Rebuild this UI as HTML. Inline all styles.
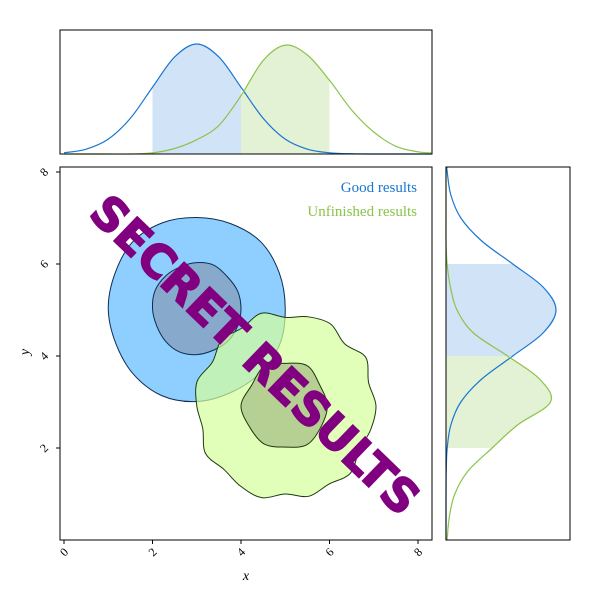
<!DOCTYPE html>
<html><head><meta charset="utf-8"><style>
body{margin:0;background:#fff}
svg text{font-family:"Liberation Serif","DejaVu Serif",serif}
</style></head><body>
<svg id="c" width="600" height="600" xmlns="http://www.w3.org/2000/svg"></svg>
<script>
const xGrid=[0,0.5,1,1.5,2,2.5,3,3.5,4,4.5,5,5.5,6,6.5,7,7.5,8,8.3];
const goodX=[0.011,0.044,0.135,0.325,0.607,0.882,1,0.882,0.607,0.325,0.135,0.044,0.011,0.002,0,0,0,0];
const unfX=[0,0,0,0,0.01,0.05,0.13,0.26,0.53,0.85,0.99,0.9,0.67,0.4,0.2,0.07,0.02,0.01];
const yGrid=[0,0.5,1,1.5,2,2.5,3,3.5,4,4.5,5,5.5,6,6.5,7,7.5,8,8.1];
const goodY=[0,0,0.0003,0.002,0.011,0.044,0.135,0.325,0.607,0.882,1,0.882,0.607,0.325,0.135,0.044,0.011,0.008];
const unfY=[0.01,0.03,0.08,0.2,0.42,0.65,0.95,0.85,0.56,0.25,0.1,0.04,0.01,0,0,0,0,0];
const xTicks=[0,2,4,6,8];
const yTicks=[2,4,6,8];
const goodCenter=[3,5.03];
const goodOuterR=[2.0,2.02,2.05,2.0,1.98,2.02,2.05,2.0,2.0,1.98,2.02,2.05,2.02,1.98,2.0,2.03];
const goodInnerR=[1.0,1.0,0.98,1.02,1.0,0.98,1.0,1.02,1.0,0.98,1.0,1.02,1.0,0.98,1.0,1.0];
const unfCenter=[5.0,2.92];
const unfOuterR=[2.05,1.95,2.1,1.9,2.05,2.0,1.92,2.08,1.95,2.03,1.9,2.06,2.0,1.93,2.08,1.96,2.02,2.07,1.92,2.04,1.97,2.08,1.93,2.0];
const unfInnerR=[0.95,0.9,1.0,0.92,0.97,0.88,1.0,0.93,0.96,0.9,0.98,0.93];

const S=document.getElementById('c'),NS='http://www.w3.org/2000/svg';
function el(t,a,p){const e=document.createElementNS(NS,t);for(const k in a)e.setAttribute(k,a[k]);(p||S).appendChild(e);return e;}
const X=v=>64+v*44.25, Y=v=>540-v*46;
const TY=v=>154-v*110, RX=v=>446+v*110;
const blue='#1976D2',green='#8BC34A';
function smooth(pts){let d='M'+pts[0][0]+','+pts[0][1];const n=pts.length;
 for(let i=0;i<n-1;i++){const p0=pts[Math.max(i-1,0)],p1=pts[i],p2=pts[i+1],p3=pts[Math.min(i+2,n-1)];
 d+='C'+(p1[0]+(p2[0]-p0[0])/6)+','+(p1[1]+(p2[1]-p0[1])/6)+' '+(p2[0]-(p3[0]-p1[0])/6)+','+(p2[1]-(p3[1]-p1[1])/6)+' '+p2[0]+','+p2[1];}return d;}
function topPts(vals){return xGrid.map((x,i)=>[X(x),TY(vals[i])]);}
function rPts(vals){return yGrid.map((y,i)=>[RX(vals[i]),Y(y)]);}
function clipRect(id,x,y,w,h){const cp=el('clipPath',{id});el('rect',{x,y,width:w,height:h},cp);}
clipRect('cg',X(2),30,X(4)-X(2),124);clipRect('cu',X(4),30,X(6)-X(4),124);
clipRect('rg',446,Y(6),124,Y(4)-Y(6));clipRect('ru',446,Y(4),124,Y(2)-Y(4));

let e=el('path',{d:smooth(topPts(goodX))+'L'+X(8.3)+','+TY(0)+'L'+X(0)+','+TY(0)+'Z',fill:'#a4c8ef',opacity:0.5,'clip-path':'url(#cg)'});
e=el('path',{d:smooth(topPts(unfX))+'L'+X(8.3)+','+TY(0)+'L'+X(0)+','+TY(0)+'Z',fill:'#d0e8b8',opacity:0.6,'clip-path':'url(#cu)'});
e=el('path',{d:smooth(topPts(goodX)),fill:'none',stroke:blue,'stroke-width':1.2});
e=el('path',{d:smooth(topPts(unfX)),fill:'none',stroke:green,'stroke-width':1.2});
e=el('rect',{x:60,y:30,width:372,height:124,fill:'none',stroke:'#000','stroke-width':1});

e=el('path',{d:smooth(rPts(goodY))+'L'+RX(0)+','+Y(8.1)+'L'+RX(0)+','+Y(0)+'Z',fill:'#a4c8ef',opacity:0.5,'clip-path':'url(#rg)'});
e=el('path',{d:smooth(rPts(unfY))+'L'+RX(0)+','+Y(8.1)+'L'+RX(0)+','+Y(0)+'Z',fill:'#d0e8b8',opacity:0.6,'clip-path':'url(#ru)'});
e=el('path',{d:smooth(rPts(goodY)),fill:'none',stroke:blue,'stroke-width':1.2});
e=el('path',{d:smooth(rPts(unfY)),fill:'none',stroke:green,'stroke-width':1.2});
e=el('rect',{x:446,y:167,width:124,height:373,fill:'none',stroke:'#000','stroke-width':1});

function contour(c,R,fill,stroke,name,op){const n=R.length;let pts=[];for(let i=0;i<n;i++){const a=i/n*2*Math.PI;pts.push([X(c[0]+R[i]*Math.cos(a)),Y(c[1]+R[i]*Math.sin(a))]);}
 let d='';for(let i=0;i<n;i++){const p0=pts[(i-1+n)%n],p1=pts[i],p2=pts[(i+1)%n],p3=pts[(i+2)%n];
 if(!i)d+='M'+p1[0]+','+p1[1];d+='C'+(p1[0]+(p2[0]-p0[0])/6)+','+(p1[1]+(p2[1]-p0[1])/6)+' '+(p2[0]-(p3[0]-p1[0])/6)+','+(p2[1]-(p3[1]-p1[1])/6)+' '+p2[0]+','+p2[1];}
 const e=el('path',{d:d+'Z',fill,stroke,'stroke-width':1,'fill-opacity':op});}
contour(goodCenter,goodOuterR,'#8fcfff','#0d2c54','good-outer-contour',1);
contour(goodCenter,goodInnerR,'#86a9cc','#0d2c54','good-inner-contour',1);
contour(unfCenter,unfOuterR,'#d4ff9a','#1b3a0d','unfinished-outer-contour',0.7);
contour(unfCenter,unfInnerR,'#9aaf78','#1b3a0d','unfinished-inner-contour',0.6);

e=el('rect',{x:60,y:167,width:372,height:373,fill:'none',stroke:'#000','stroke-width':1});
xTicks.forEach(v=>{el('line',{x1:X(v),x2:X(v),y1:540,y2:544,stroke:'#000'});
 const t=el('text',{x:X(v),y:556,'font-size':12,'text-anchor':'middle',transform:`rotate(-45 ${X(v)} 552)`});t.textContent=v;});
yTicks.forEach(v=>{el('line',{x1:56,x2:60,y1:Y(v),y2:Y(v),stroke:'#000'});
 const t=el('text',{x:44,y:Y(v)+4,'font-size':12,'text-anchor':'middle',transform:`rotate(-45 44 ${Y(v)})`});t.textContent=v;});
let t=el('text',{x:246,y:580,'font-size':14,'font-style':'italic','text-anchor':'middle'});t.textContent='x';
t=el('text',{x:26,y:355,'font-size':14,'font-style':'italic','text-anchor':'middle',transform:'rotate(-90 26 352)'});t.textContent='y';
t=el('text',{x:417,y:192,'font-size':15,'text-anchor':'end',fill:blue});t.textContent='Good results';
t=el('text',{x:417,y:216,'font-size':15,'text-anchor':'end',fill:green});t.textContent='Unfinished results';
t=el('text',{x:255,y:371,'font-size':46,'font-weight':'bold','text-anchor':'middle',fill:'#800080',stroke:'#800080','stroke-width':1.5,style:'font-family:"DejaVu Sans","Liberation Sans",sans-serif',transform:'rotate(44 255 355)'});t.textContent='SECRET RESULTS';
</script>
</body></html>
